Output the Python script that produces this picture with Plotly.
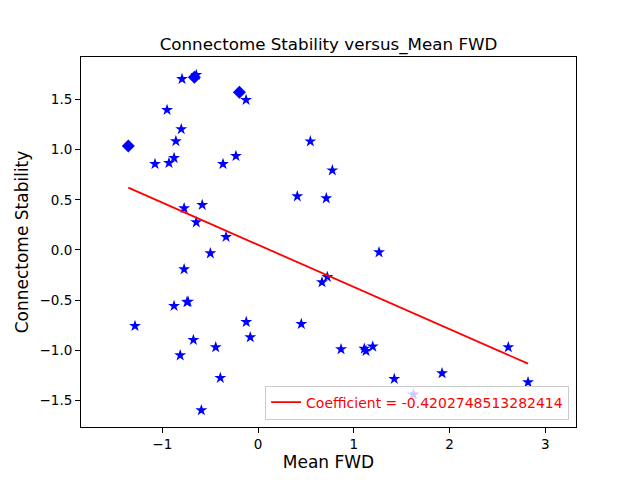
import numpy as np
import plotly.graph_objects as go

# star points (Mean FWD, Connectome Stability)
fwd = [-1.285, -1.076, -0.950, -0.930, -0.877, -0.858, -0.802, -0.794, -0.772, -0.772,
       -0.877, -0.731, -0.742, -0.813, -0.675, -0.645, -0.645, -0.583, -0.592, -0.498,
       -0.442, -0.394, -0.334, -0.366, -0.231, -0.125, -0.123, -0.081, 0.410, 0.452,
       0.546, 0.668, 0.713, 0.724, 0.776, 0.867, 1.110, 1.128, 1.198, 1.264,
       1.423, 1.622, 1.922, 2.614, 2.820]
stability = [-0.758, 0.857, 1.396, 0.867, 0.917, 1.085, 1.204, 1.705, 0.416, -0.192,
             -0.558, -0.515, -0.520, -1.050, -0.897, 0.276, 1.745, 0.449, -1.598, -0.033,
             -0.970, -1.276, 0.130, 0.857, 0.937, 1.496, -0.718, -0.870, 0.535, -0.738,
             1.083, -0.322, 0.515, -0.269, 0.794, -0.990, -0.985, -1.007, -0.963, -0.023,
             -1.286, -1.441, -1.229, -0.970, -1.319]

# diamond points
fwd_d = [-1.355, -0.665, -0.195]
stability_d = [1.037, 1.722, 1.572]

coef = -0.4202748513282414
intercept = 0.0515
fit_x = np.array([min(fwd + fwd_d), max(fwd + fwd_d)])
fit_y = intercept + coef * fit_x

fig = go.Figure()
fig.add_trace(go.Scatter(x=fwd, y=stability, mode='markers', showlegend=False,
                         marker=dict(symbol='star', size=9, color='#0000ff',
                                     line=dict(width=0))))
fig.add_trace(go.Scatter(x=fwd_d, y=stability_d, mode='markers', showlegend=False,
                         marker=dict(symbol='diamond', size=10, color='#0000ff',
                                     line=dict(width=0))))
fig.add_trace(go.Scatter(x=fit_x, y=fit_y, mode='lines',
                         name='Coefficient = ' + str(coef),
                         line=dict(color='#ff0000', width=1.8)))

axis_style = dict(showgrid=False, zeroline=False, showline=True, mirror=True,
                  linecolor='black', linewidth=1, ticks='outside', ticklen=5,
                  tickcolor='black', tickfont=dict(size=13.5, color='black'))

# the page puts the figure 8px in from the corner, so margins are offset by 8
fig.update_layout(
    width=640, height=480,
    margin=dict(l=73, r=72, t=49, b=61),
    paper_bgcolor='white', plot_bgcolor='white',
    font=dict(family='DejaVu Sans', color='black'),
    title=dict(text='Connectome Stability versus_Mean FWD', x=0.5, xref='paper',
               xanchor='center', yref='container', y=0.925, yanchor='middle',
               font=dict(size=16.7)),
    xaxis=dict(range=[-1.849, 3.321], dtick=1, tick0=0,
               title=dict(text='Mean FWD', font=dict(size=17), standoff=4), **axis_style),
    yaxis=dict(range=[-1.765, 1.924], dtick=0.5, tick0=0, tickformat='.1f',
               title=dict(text='Connectome Stability', font=dict(size=17), standoff=6),
               **axis_style),
    legend=dict(x=0.986, y=0.02, xanchor='right', yanchor='bottom',
                bgcolor='rgba(255,255,255,0.8)', bordercolor='#cccccc', borderwidth=1,
                font=dict(size=14, color='#ff0000')),
)

fig.write_html('out.html')
